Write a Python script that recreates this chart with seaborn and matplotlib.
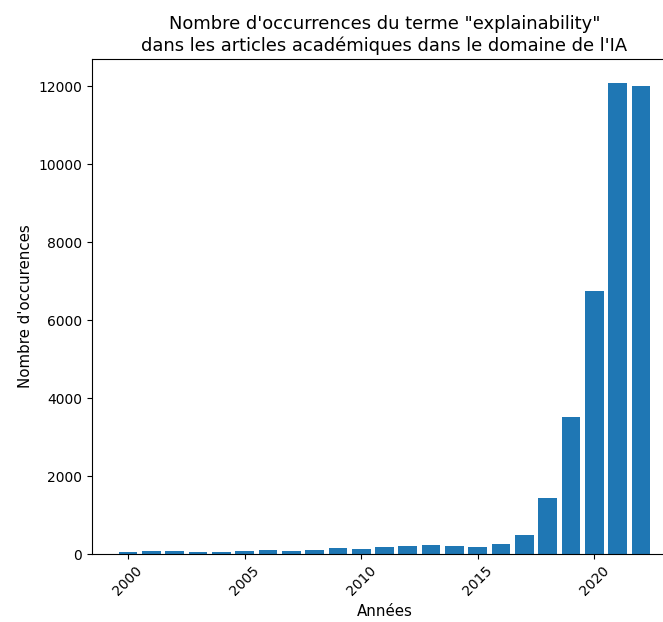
import matplotlib
matplotlib.use("Agg")
import matplotlib.pyplot as plt
import pandas as pd
import seaborn as sns

years = list(range(2000, 2023))
occurrences = [60, 80, 80, 60, 60, 80, 100, 80, 100, 155, 130, 180, 205, 235,
               205, 180, 260, 490, 1430, 3520, 6750, 12100, 12000]

df = pd.DataFrame({"annee": years, "occurrences": occurrences})

# the original export is cropped on the right: the axes run past the image edge
W, H = 663, 622
fig = plt.figure(figsize=(W / 100, H / 100), dpi=100)
ax = fig.add_axes([92 / W, (H - 554) / H, 585 / W, 495 / H])
sns.barplot(data=df, x="annee", y="occurrences", native_scale=True,
            color="#1f77b4", saturation=1, width=0.8, ax=ax)
ax.set_title("Nombre d'occurrences du terme \"explainability\"\n"
             "dans les articles académiques dans le domaine de l'IA",
             fontsize=12.9)
ax.set_xlabel("Années", fontsize=10.8)
ax.set_ylabel("Nombre d'occurences", fontsize=10.8)
ax.set_xticks([2000, 2005, 2010, 2015, 2020])
ax.tick_params(axis="x", labelrotation=45)
ax.set_xlim(1998.46, 2023.54)
fig.savefig("out.png", dpi=100)
